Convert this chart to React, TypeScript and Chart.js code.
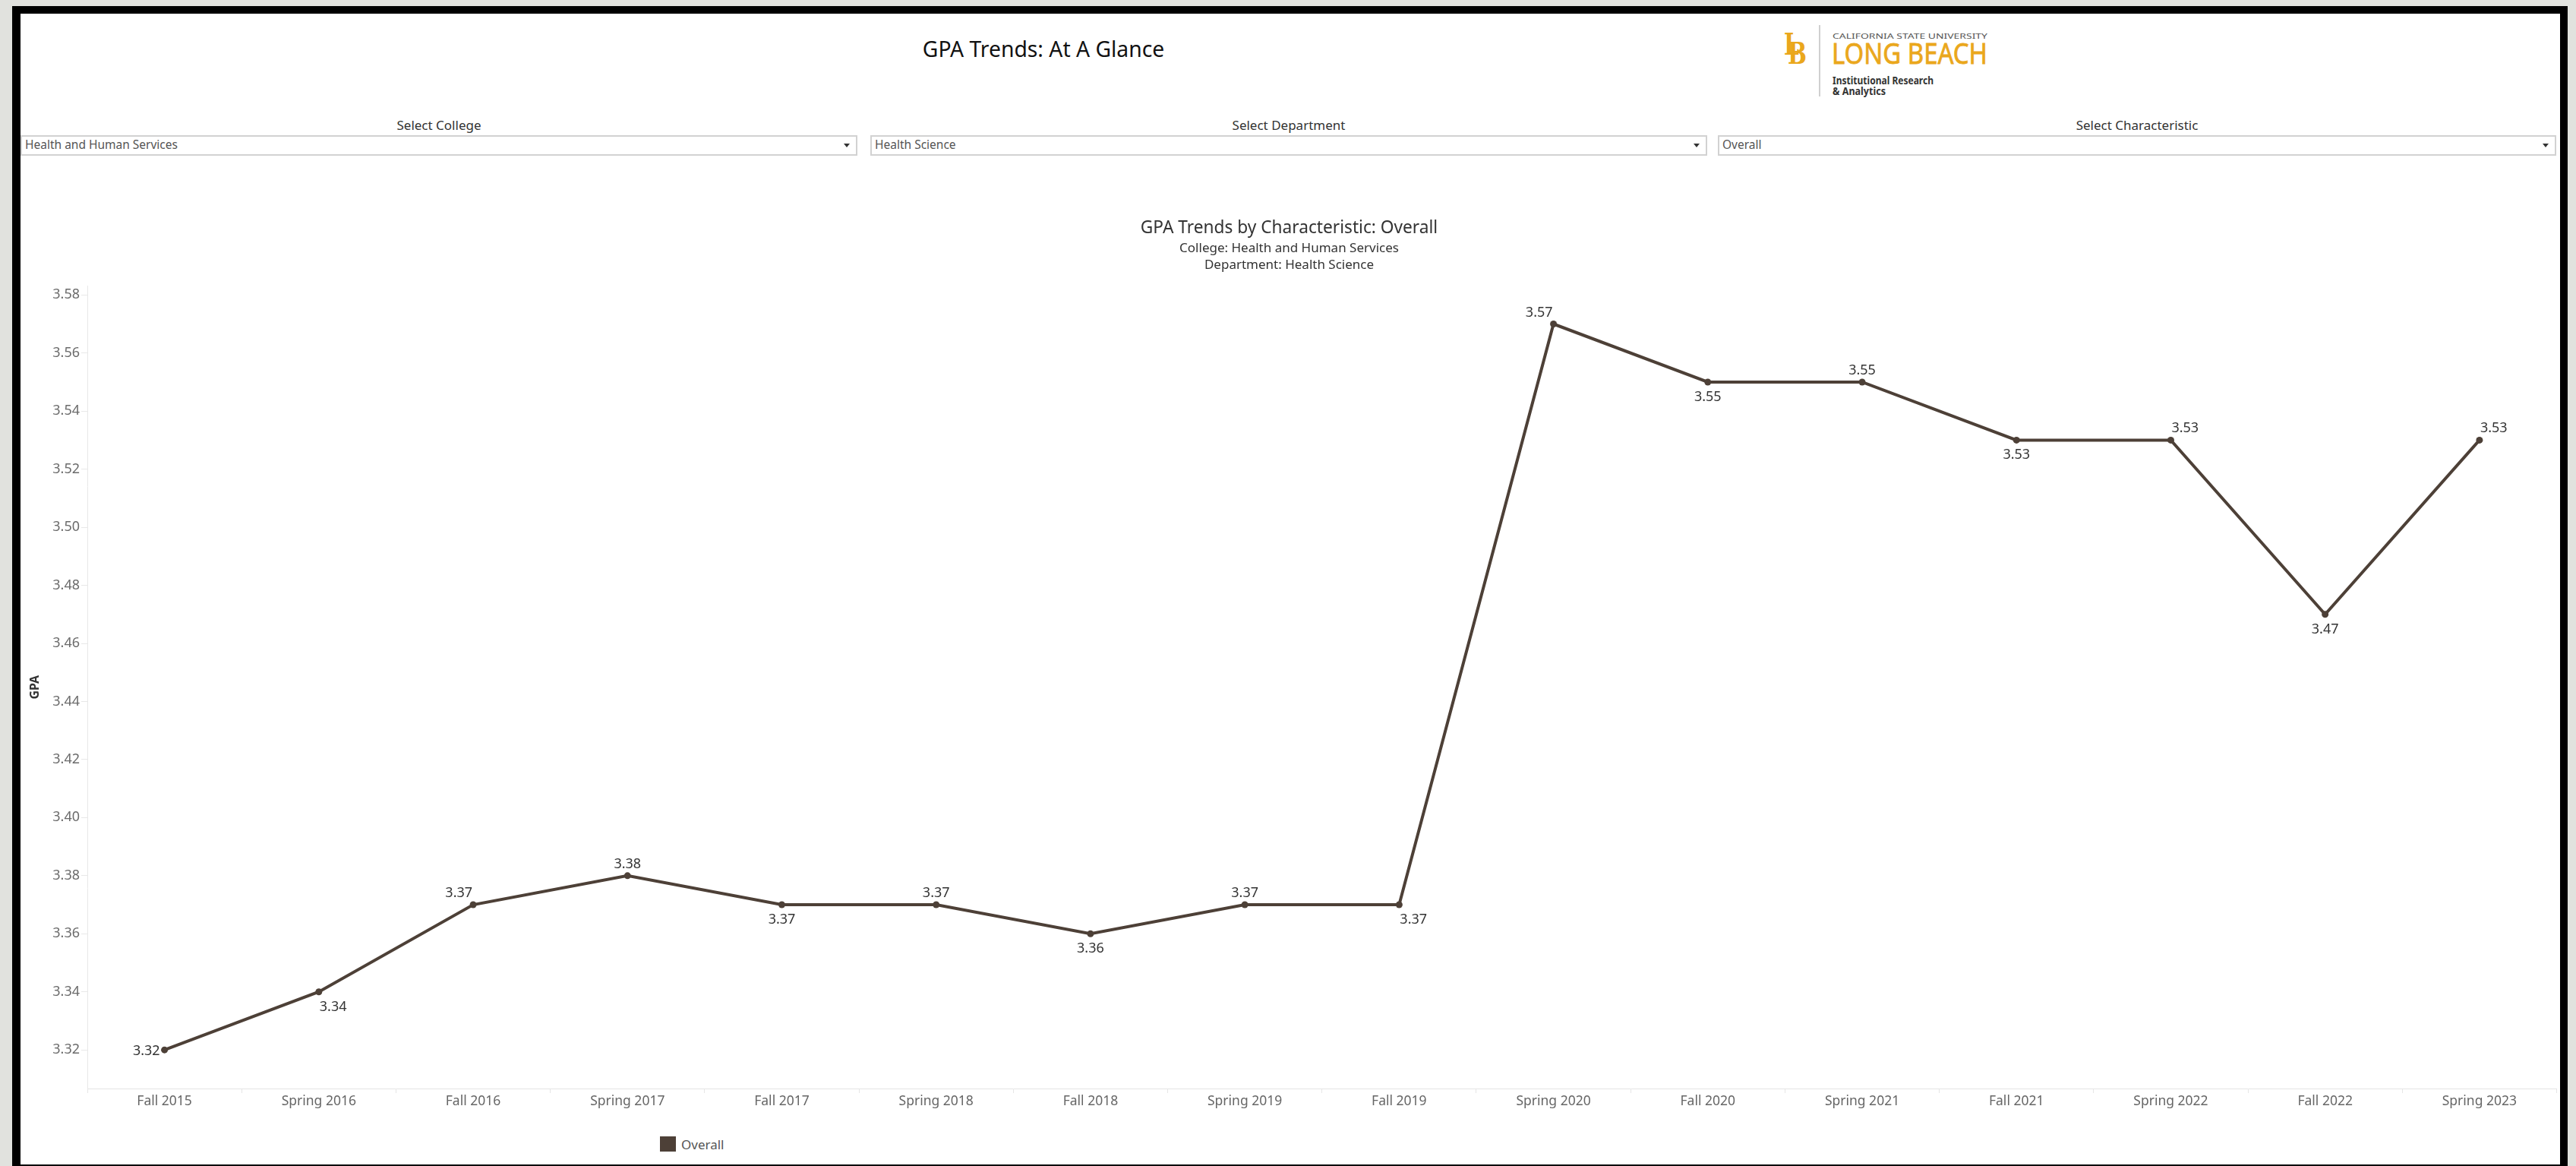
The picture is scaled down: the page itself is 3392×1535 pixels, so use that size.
import React, { useEffect, useRef } from "react";
import { Chart, registerables } from "chart.js";

Chart.register(...registerables);

// ---------- data ----------
const terms = [
  "Fall 2015", "Spring 2016", "Fall 2016", "Spring 2017", "Fall 2017", "Spring 2018",
  "Fall 2018", "Spring 2019", "Fall 2019", "Spring 2020", "Fall 2020", "Spring 2021",
  "Fall 2021", "Spring 2022", "Fall 2022", "Spring 2023",
];
const overallGpa = [
  3.32, 3.34, 3.37, 3.38, 3.37, 3.37, 3.36, 3.37, 3.37, 3.57, 3.55, 3.55, 3.53, 3.53, 3.47, 3.53,
];
const gpaTicks = [3.32, 3.34, 3.36, 3.38, 3.4, 3.42, 3.44, 3.46, 3.48, 3.5, 3.52, 3.54, 3.56, 3.58];
const yAxisMin = 3.3067;
const yAxisMax = 3.5831;
const seriesName = "Overall";
const chartTitle = "GPA Trends by Characteristic: Overall";
const chartSubtitle = ["College: Health and Human Services", "Department: Health Science"];
// where each value label sits relative to its point
const labelPlacement = [
  "left", "below-start", "above-end", "above", "below", "above", "below", "above",
  "below-start", "above-end", "below", "above", "below", "above-start", "below", "above-start",
];
const filters = [
  { label: "Select College", value: "Health and Human Services", left: 27, right: 1129 },
  { label: "Select Department", value: "Health Science", left: 1146, right: 2248 },
  { label: "Select Characteristic", value: "Overall", left: 2262, right: 3366 },
];

const FONT = "'Noto Sans', sans-serif";
const LINE_COLOR = "#4d4037";

const valueLabels = {
  id: "valueLabels",
  afterDatasetsDraw(chart: any) {
    const ctx = chart.ctx;
    const meta = chart.getDatasetMeta(0);
    ctx.save();
    ctx.font = `18px ${FONT}`;
    ctx.fillStyle = "#333333";
    ctx.textBaseline = "alphabetic";
    meta.data.forEach((pt: any, i: number) => {
      const p = labelPlacement[i];
      const text = overallGpa[i].toFixed(2);
      let x = pt.x;
      let y = pt.y;
      if (p === "left") {
        ctx.textAlign = "right";
        x -= 6;
        y += 6.5;
      } else {
        const [v, h] = p.split("-");
        y = v === "above" ? y - 10 : y + 25;
        if (h === "start") {
          ctx.textAlign = "left";
          x += 1;
        } else if (h === "end") {
          ctx.textAlign = "right";
          x -= 1;
        } else {
          ctx.textAlign = "center";
        }
      }
      ctx.fillText(text, x, y);
    });
    ctx.restore();
  },
};

function Txt(props: {
  x: number; base: number; size: number; align?: "left" | "center"; color?: string;
  weight?: number | string; children: React.ReactNode;
}) {
  const { x, base, size, align = "left", color = "#333", weight = 400, children } = props;
  const style: React.CSSProperties = {
    position: "absolute",
    top: base - 0.888 * size,
    fontSize: size,
    lineHeight: `${size}px`,
    color,
    fontWeight: weight as any,
    whiteSpace: "nowrap",
    fontFamily: FONT,
  };
  if (align === "center") {
    style.left = x - 1000;
    style.width = 2000;
    style.textAlign = "center";
  } else {
    style.left = x;
  }
  return <div style={style}>{children}</div>;
}

function ChartPanel() {
  const ref = useRef<HTMLCanvasElement | null>(null);
  useEffect(() => {
    if (!ref.current) return;
    Chart.defaults.font.family = FONT;
    const chart = new Chart(ref.current, {
      type: "line",
      data: {
        labels: terms,
        datasets: [
          {
            label: seriesName,
            data: overallGpa,
            borderColor: LINE_COLOR,
            backgroundColor: LINE_COLOR,
            borderWidth: 4,
            pointRadius: 4.5,
            pointBorderWidth: 0,
            pointBackgroundColor: LINE_COLOR,
            tension: 0,
            fill: false,
          },
        ],
      },
      options: {
        animation: false,
        responsive: false,
        maintainAspectRatio: false,
        devicePixelRatio: 1,
        layout: { padding: { left: 0, right: 3, top: 0, bottom: 0 } },
        plugins: {
          legend: { display: false },
          tooltip: { enabled: false },
          title: {
            display: true,
            text: chartTitle,
            color: "#333333",
            font: { family: FONT, size: 22.7, weight: "normal", lineHeight: 1.2 },
            padding: { top: 16.6, bottom: 0 },
          },
          subtitle: {
            display: true,
            text: chartSubtitle,
            color: "#333333",
            font: { family: FONT, size: 17, weight: "normal", lineHeight: 1.265 },
            padding: { top: 3, bottom: 16.6 },
          },
        },
        scales: {
          x: {
            type: "category",
            offset: true,
            grid: {
              display: true,
              offset: true,
              drawOnChartArea: false,
              drawTicks: true,
              tickLength: 6,
              color: "#e6e6e6",
            },
            border: { display: true, color: "#e4e4e4", width: 1 },
            ticks: {
              color: "#666666",
              font: { family: FONT, size: 17.5 },
              padding: 1,
              maxRotation: 0,
              autoSkip: false,
            },
            afterFit: (s: any) => {
              s.height = 57;
            },
          },
          y: {
            type: "linear",
            min: yAxisMin,
            max: yAxisMax,
            grid: {
              display: true,
              drawOnChartArea: false,
              drawTicks: true,
              tickLength: 8,
              color: "#e8e8e8",
            },
            border: { display: true, color: "#e8e8e8", width: 1 },
            ticks: {
              color: "#6b6b6b",
              font: { family: FONT, size: 18 },
              padding: 2,
              callback: (v: any) => Number(v).toFixed(2),
            },
            afterBuildTicks: (s: any) => {
              s.ticks = gpaTicks.map((v) => ({ value: v }));
            },
            afterFit: (s: any) => {
              s.width = 88;
            },
            title: {
              display: true,
              text: "GPA",
              color: "#333333",
              font: { family: FONT, size: 16, weight: "bold" },
              padding: { top: 10, bottom: 0 },
            },
          },
        },
      },
      plugins: [valueLabels],
    } as any);
    return () => chart.destroy();
  }, []);
  return (
    <canvas
      ref={ref}
      width={3344}
      height={1220}
      style={{ position: "absolute", left: 27, top: 270, width: 3344, height: 1220, display: "block" }}
    />
  );
}

function Logo() {
  const gold = "#eaa71c";
  return (
    <svg
      style={{ position: "absolute", left: 2330, top: 20, width: 320, height: 120 }}
      viewBox="2330 20 320 120"
      width={320}
      height={120}
    >
      <text x={2349} y={72} fill={gold} fontFamily="'DejaVu Serif', serif" fontWeight="bold" fontSize={40}
        textLength={20} lengthAdjust="spacingAndGlyphs">L</text>
      <text x={2354} y={84} fill={gold} fontFamily="'DejaVu Serif', serif" fontWeight="bold" fontSize={40}
        textLength={25} lengthAdjust="spacingAndGlyphs">B</text>
      <line x1={2396} y1={33} x2={2396} y2={127} stroke="#a0a0a0" strokeWidth={1} />
      <text x={2413} y={51} fill="#555" fontFamily={FONT} fontSize={8} textLength={204}
        lengthAdjust="spacingAndGlyphs">CALIFORNIA STATE UNIVERSITY</text>
      <text x={2412} y={84} fill={gold} stroke={gold} strokeWidth={0.8} fontFamily={FONT} fontSize={38}
        textLength={205} lengthAdjust="spacingAndGlyphs">LONG BEACH</text>
      <text x={2413} y={111} fill="#333" fontFamily={FONT} fontWeight="bold" fontSize={13.5} textLength={133}
        lengthAdjust="spacingAndGlyphs">Institutional Research</text>
      <text x={2413} y={125} fill="#333" fontFamily={FONT} fontWeight="bold" fontSize={13.5} textLength={70}
        lengthAdjust="spacingAndGlyphs">&amp; Analytics</text>
    </svg>
  );
}

export default function App() {
  return (
    <div
      style={{
        position: "fixed",
        left: 0,
        top: 0,
        width: 3392,
        height: 1535,
        background: "#e1e2de",
        overflow: "hidden",
        fontFamily: FONT,
      }}
    >
      <div style={{ position: "absolute", left: 16, top: 8, width: 3381 - 16, height: 1535 - 8, background: "#000" }} />
      <div style={{ position: "absolute", left: 27, top: 18, width: 3371 - 27, height: 1533 - 18, background: "#fff" }} />

      <Txt x={1374} base={75} size={28.3} align="center" color="#111">GPA Trends: At A Glance</Txt>
      <Logo />

      {filters.map((f) => (
        <React.Fragment key={f.label}>
          <Txt x={(f.left + f.right) / 2} base={171} size={17} align="center" color="#333">{f.label}</Txt>
          <div
            style={{
              position: "absolute",
              left: f.left,
              top: 178,
              width: f.right - f.left,
              height: 27,
              boxSizing: "border-box",
              border: "2px solid #d2d2d2",
              background: "#fff",
            }}
          />
          <Txt x={f.left + 6} base={197} size={15.5} color="#555">{f.value}</Txt>
          <div
            style={{
              position: "absolute",
              left: f.right - 18,
              top: 189,
              width: 0,
              height: 0,
              borderLeft: "4.5px solid transparent",
              borderRight: "4.5px solid transparent",
              borderTop: "5px solid #333",
            }}
          />
        </React.Fragment>
      ))}

      <ChartPanel />

      <div style={{ position: "absolute", left: 869, top: 1496, width: 21, height: 20, background: LINE_COLOR }} />
      <Txt x={897} base={1513} size={17} color="#555">{seriesName}</Txt>
    </div>
  );
}
